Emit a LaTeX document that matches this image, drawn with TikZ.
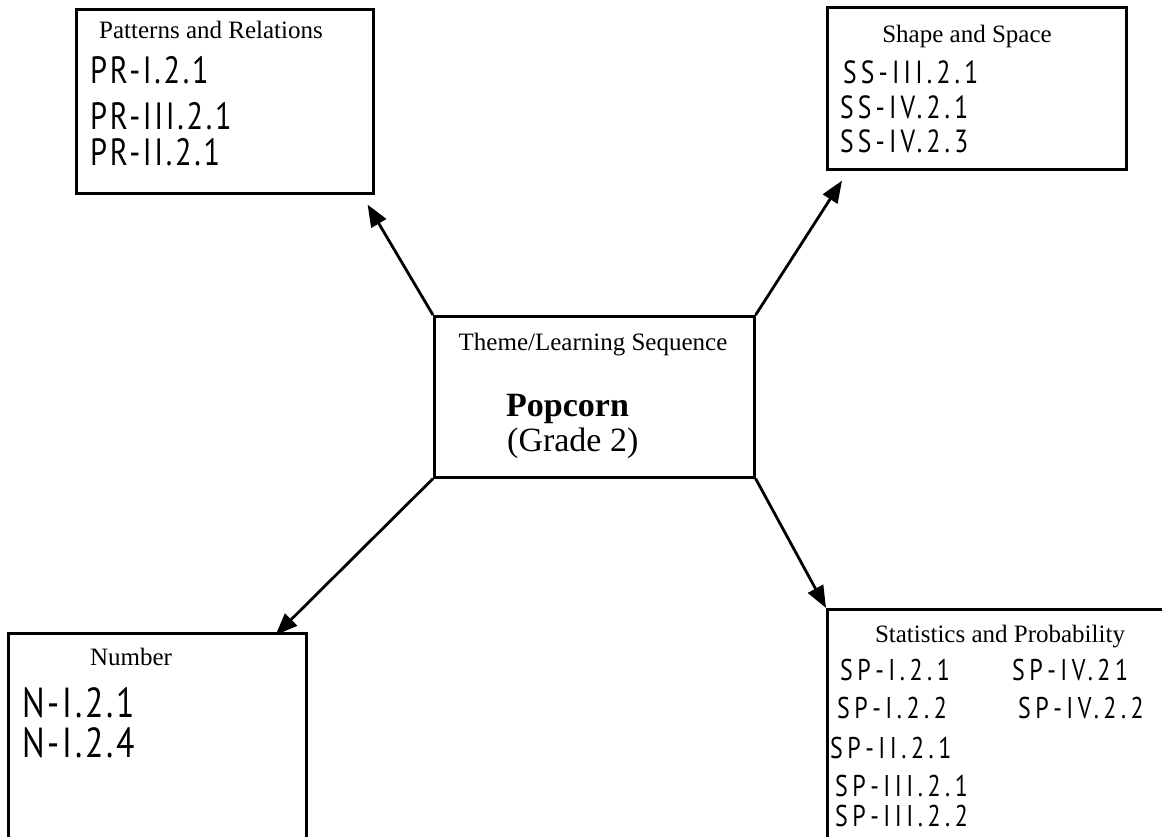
\documentclass[tikz,border=0pt]{standalone}
\usepackage{fontspec}
\setmainfont{Liberation Serif}
\newfontfamily\handfont[FakeStretch=0.8]{PT Sans}
\usetikzlibrary{arrows.meta, positioning, calc}

\begin{document}
\begin{tikzpicture}[
  x=1pt, y=-1pt,
  % --- styles ------------------------------------------------------------
  box/.style={rectangle, draw, line width=2.6pt, anchor=north west, inner sep=0pt},
  title/.style={font=\fontsize{25}{30}\selectfont, anchor=base, inner sep=0pt},
  % size / letter spacing of the hand-written codes
  code/.style args={#1/#2}{font=\handfont\addfontfeature{LetterSpace=#2}\fontsize{#1}{#1}\selectfont,
    anchor=base west, inner sep=0pt},
  link/.style={-{Triangle[length=22pt,width=17pt]}, line width=2.8pt}
]
\useasboundingbox (0,0) rectangle (1162,836);
\clip (0,0) rectangle (1162,836);

% --------------------- centre box ---------------------------------------
\node[box, minimum width=320pt, minimum height=161pt] (theme) at (433,315) {};
\node[title] (themetitle) at (593,350) {Theme/Learning Sequence};
\node[anchor=base west, inner sep=0pt, font=\fontsize{34}{40}\selectfont\bfseries]
     (popcorn) at (506,416) {Popcorn};
\node[anchor=base west, inner sep=0pt, font=\fontsize{34}{40}\selectfont]
     (grade) at (507,451) {(Grade 2)};

% --------------------- outer boxes --------------------------------------
\node[box, minimum width=297pt, minimum height=184pt] (pr) at (75,8) {};
\node[box, minimum width=299pt, minimum height=162pt] (ss) at (826,6) {};
\node[box, minimum width=298pt, minimum height=280pt] (num) at (7,632) {};
\node[box, minimum width=360pt, minimum height=280pt] (sp) at (826,608) {};

% patterns and relations
\node[title] (prtitle) at (211,38) {Patterns and Relations};
\node[code=38/7] (pr1) at (90,83) {PR-I.2.1};
\node[code=38/7] (pr2) at (90,129) {PR-III.2.1};
\node[code=38/7] (pr3) at (90,165) {PR-II.2.1};

% shape and space
\node[title] (sstitle) at (967,42) {Shape and Space};
\node[code=32/13] (ss1) at (843,83) {SS-III.2.1};
\node[code=32/13] (ss2) at (840,118) {SS-IV.2.1};
\node[code=32/13] (ss3) at (840,152) {SS-IV.2.3};

% number
\node[title] (numtitle) at (131,665) {Number};
\node[code=42/7] (num1) at (22,717) {N-I.2.1};
\node[code=42/7] (num2) at (22,757) {N-I.2.4};

% statistics and probability
\node[title] (sptitle) at (1000,642) {Statistics and Probability};
\node[code=30/15] (sp1) at (840,680) {SP-I.2.1};
\node[code=30/15] (sp2) at (837,718) {SP-I.2.2};
\node[code=30/15] (sp3) at (830,758) {SP-II.2.1};
\node[code=30/15] (sp4) at (835,796) {SP-III.2.1};
\node[code=30/15] (sp5) at (835,826) {SP-III.2.2};
\node[code=30/15] (sp6) at (1012,680) {SP-IV.21};
\node[code=30/15] (sp7) at (1018,718) {SP-IV.2.2};

% --------------------- arrows from the corners --------------------------
\draw[link] (theme.north west) -- ([xshift=-7pt,yshift=-10pt]pr.south east);
\draw[link] (theme.north east) -- ([xshift=16pt,yshift=-10pt]ss.south west);
\draw[link] (theme.south west) -- ([xshift=-32pt,yshift=-3pt]num.north east);
\draw[link] (theme.south east) -- (sp.north west);

\end{tikzpicture}
\end{document}
